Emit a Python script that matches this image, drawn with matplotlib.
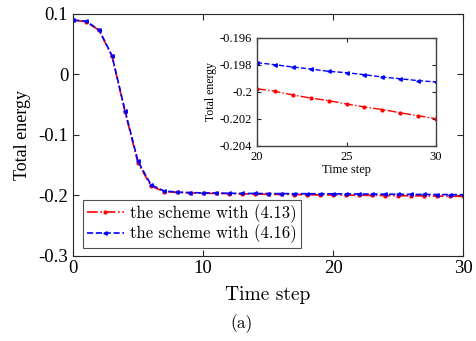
import matplotlib
matplotlib.use("Agg")
import matplotlib.pyplot as plt
from matplotlib.ticker import FuncFormatter

plt.rcParams['axes.unicode_minus'] = False
plt.rcParams['font.family'] = ['Liberation Serif', 'DejaVu Serif']

# data
steps = list(range(0, 31))
energy_413 = [0.090, 0.087, 0.073, 0.030, -0.062, -0.147, -0.185, -0.194, -0.1955, -0.1962,
              -0.1968, -0.1972, -0.1976, -0.1980, -0.1983, -0.1986, -0.1989, -0.1991, -0.1993, -0.1996,
              -0.19978, -0.19997, -0.20024, -0.20047, -0.20066, -0.20091, -0.20113, -0.20132, -0.20156, -0.20178,
              -0.20200]
energy_416 = [0.090, 0.088, 0.074, 0.031, -0.060, -0.144, -0.183, -0.193, -0.1950, -0.1958,
              -0.1963, -0.1966, -0.1969, -0.1971, -0.1973, -0.1974, -0.1975, -0.1976, -0.1977, -0.1978,
              -0.19785, -0.19800, -0.19817, -0.19832, -0.19849, -0.19859, -0.19874, -0.19891, -0.19904, -0.19918,
              -0.19928]
label_413 = "the scheme with (4.13)"
label_416 = "the scheme with (4.16)"

fig = plt.figure(figsize=(4.76, 3.41), dpi=100)
ax = fig.add_axes([0.1534, 0.2507, 0.8193, 0.7083])

ax.plot(steps, energy_413, color='red', linestyle='-.', marker='.', markersize=4, linewidth=1.2, label=label_413)
ax.plot(steps, energy_416, color='blue', linestyle='--', marker='<', markersize=2.5, linewidth=1.2, label=label_416)
ax.set_xlim(0, 30)
ax.set_ylim(-0.3, 0.1)
ax.set_xticks([0, 10, 20, 30])
ax.set_yticks([0.1, 0, -0.1, -0.2, -0.3])
ax.yaxis.set_major_formatter(FuncFormatter(lambda v, p: '%g' % round(v, 3)))
ax.tick_params(direction='in', top=True, right=True, labelsize=13.5, length=4, color='#262626')
for s in ax.spines.values():
    s.set_color('#262626')
    s.set_linewidth(0.8)
ax.set_xlabel("Time step", fontfamily='cmr10', fontsize=14, labelpad=6)
ax.set_ylabel("Total energy", fontsize=13, labelpad=5)

leg = ax.legend(loc='lower left', bbox_to_anchor=(0.012, 0.012), prop={'family': 'cmr10', 'size': 12},
                frameon=True, fancybox=False, edgecolor='#262626', handlelength=2.2, handletextpad=0.4,
                borderpad=0.25, labelspacing=0.1, borderaxespad=0.3)
leg.get_frame().set_linewidth(0.8)

# inset
ins = fig.add_axes([0.540, 0.5727, 0.376, 0.3167])
ins.plot(steps[20:], energy_413[20:], color='red', linestyle='-.', marker='.', markersize=4, linewidth=1.0)
ins.plot(steps[20:], energy_416[20:], color='blue', linestyle='--', marker='<', markersize=2.5, linewidth=1.0)
ins.set_xlim(20, 30)
ins.set_ylim(-0.204, -0.196)
ins.set_xticks([20, 25, 30])
ins.set_yticks([-0.196, -0.198, -0.2, -0.202, -0.204])
ins.yaxis.set_major_formatter(FuncFormatter(lambda v, p: '%g' % round(v, 4)))
ins.tick_params(direction='in', top=True, right=True, labelsize=9, length=3, color='#262626')
for s in ins.spines.values():
    s.set_color('#404040')
    s.set_linewidth(1.0)
ins.set_xlabel("Time step", fontsize=9, labelpad=1)
ins.set_ylabel("Total energy", fontsize=8.5, labelpad=2)

fig.text(0.507, 0.05, "(a)", fontfamily='cmr10', fontsize=12.5, ha='center', va='center')

fig.savefig("out.png", dpi=100)
